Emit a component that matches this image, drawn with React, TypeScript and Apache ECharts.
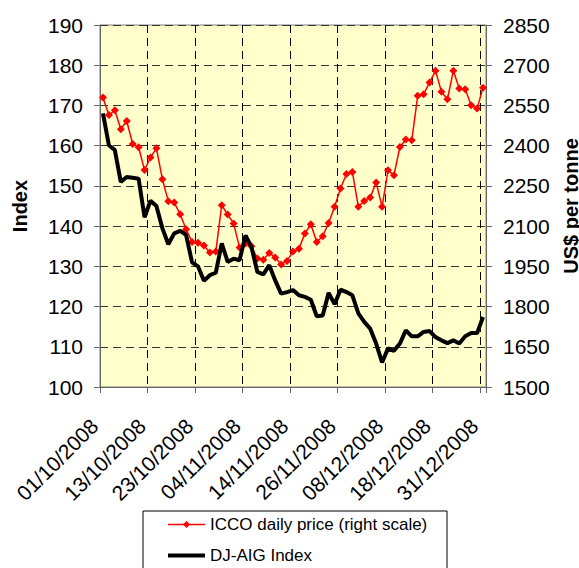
import React, { useEffect, useRef } from "react";
import * as echarts from "echarts";

const dates = [
  "01/10/2008", "02/10/2008", "03/10/2008", "06/10/2008", "07/10/2008", "08/10/2008", "09/10/2008", "10/10/2008",
  "13/10/2008", "14/10/2008", "15/10/2008", "16/10/2008", "17/10/2008", "20/10/2008", "21/10/2008", "22/10/2008",
  "23/10/2008", "24/10/2008", "27/10/2008", "28/10/2008", "29/10/2008", "30/10/2008", "31/10/2008", "03/11/2008",
  "04/11/2008", "05/11/2008", "06/11/2008", "07/11/2008", "10/11/2008", "11/11/2008", "12/11/2008", "13/11/2008",
  "14/11/2008", "17/11/2008", "18/11/2008", "19/11/2008", "20/11/2008", "21/11/2008", "24/11/2008", "25/11/2008",
  "26/11/2008", "27/11/2008", "28/11/2008", "01/12/2008", "02/12/2008", "03/12/2008", "04/12/2008", "05/12/2008",
  "08/12/2008", "09/12/2008", "10/12/2008", "11/12/2008", "12/12/2008", "15/12/2008", "16/12/2008", "17/12/2008",
  "18/12/2008", "19/12/2008", "22/12/2008", "23/12/2008", "24/12/2008", "26/12/2008", "29/12/2008", "30/12/2008",
  "31/12/2008",
];

// ICCO daily price, US$ per tonne (right scale)
const iccoPrice = [
  2580, 2514, 2532, 2461, 2492, 2406, 2394, 2309, 2356, 2390, 2275, 2193, 2188, 2144, 2088, 2041,
  2038, 2028, 2002, 2005, 2178, 2143, 2110, 2020, 2035, 2025, 1979, 1975, 2000, 1983, 1957, 1970,
  2005, 2016, 2072, 2107, 2041, 2062, 2112, 2172, 2240, 2294, 2302, 2172, 2194, 2207, 2263, 2172,
  2308, 2290, 2395, 2423, 2420, 2586, 2592, 2636, 2679, 2601, 2573, 2679, 2613, 2610, 2551, 2539,
  2616,
];

// DJ-AIG Index (left scale)
const djAigIndex = [
  168.0, 160.1, 158.9, 151.0, 152.2, 152.0, 151.8, 142.2, 146.3, 145.0, 139.5, 135.5, 138.2, 138.8, 137.8, 131.0,
  130.0, 126.4, 127.8, 128.4, 135.7, 131.1, 131.9, 131.5, 137.7, 134.8, 128.6, 128.0, 130.3, 126.5, 123.2, 123.6,
  124.1, 122.8, 122.4, 121.7, 117.6, 117.8, 123.4, 120.6, 124.2, 123.6, 122.8, 118.3, 116.2, 114.5, 110.8, 106.1,
  109.6, 109.0, 110.8, 114.1, 112.6, 112.6, 113.7, 113.9, 112.4, 111.6, 110.9, 111.6, 110.8, 112.6, 113.4, 113.4,
  117.4,
];

const leftAxisRange = [100, 190];
const leftAxisStep = 10;
const rightAxisRange = [1500, 2850];
const rightAxisStep = 150;

const seriesNames = ["ICCO daily price (right scale)", "DJ-AIG Index"];
const axisTitles = ["Index", "US$ per tonne"];

const FONT = "'Liberation Sans', Arial, Helvetica, sans-serif";

export default function App() {
  const ref = useRef<HTMLDivElement>(null);

  useEffect(() => {
    if (!ref.current) return;
    const chart = echarts.init(ref.current, undefined, { renderer: "svg" });
    const axisLabelStyle = { fontSize: 21, fontFamily: FONT, color: "#000" };
    const titleStyle = { fontSize: 20, fontWeight: "bold", fontFamily: FONT, color: "#000" };
    chart.setOption({
      animation: false,
      backgroundColor: "#ffffff",
      grid: {
        left: 100,
        right: 93,
        top: 25,
        bottom: 181,
        show: true,
        backgroundColor: "#FFFFCC",
        borderColor: "#808080",
        borderWidth: 1,
        containLabel: false,
        outerBoundsMode: "none",
      },
      xAxis: {
        type: "category",
        data: dates,
        boundaryGap: true,
        axisLine: { show: true, lineStyle: { color: "#666", width: 1 } },
        axisTick: { show: true, interval: 7, length: 6, lineStyle: { color: "#666" } },
        axisLabel: {
          interval: 7,
          rotate: 45,
          margin: 27,
          formatter: (v: string) => "{d|" + v + "}",
          rich: { d: { ...axisLabelStyle, padding: [0, 12, 0, 0] } },
        },
        splitLine: { show: true, interval: 7, lineStyle: { color: "#000", type: [8, 5], width: 1 } },
      },
      yAxis: [
        {
          type: "value",
          position: "left",
          min: leftAxisRange[0],
          max: leftAxisRange[1],
          interval: leftAxisStep,
          name: axisTitles[0],
          nameLocation: "middle",
          nameRotate: 90,
          nameGap: 70,
          nameTextStyle: titleStyle,
          axisLine: { show: true, lineStyle: { color: "#666", width: 1 } },
          axisTick: { show: true, length: 6, lineStyle: { color: "#666" } },
          axisLabel: { ...axisLabelStyle, margin: 17, formatter: (v: number) => String(v) },
          splitLine: { show: true, lineStyle: { color: "#333", type: [8, 5], width: 1 } },
        },
        {
          type: "value",
          position: "right",
          min: rightAxisRange[0],
          max: rightAxisRange[1],
          interval: rightAxisStep,
          name: axisTitles[1],
          nameLocation: "middle",
          nameRotate: 90,
          nameGap: 64,
          nameTextStyle: titleStyle,
          axisLine: { show: true, lineStyle: { color: "#666", width: 1 } },
          axisTick: { show: true, length: 6, lineStyle: { color: "#666" } },
          axisLabel: { ...axisLabelStyle, margin: 17, formatter: (v: number) => String(v) },
          splitLine: { show: false },
        },
      ],
      legend: {
        orient: "vertical",
        left: 166,
        top: 516,
        padding: 0,
        itemWidth: 37,
        itemHeight: 9,
        itemGap: 14,
        textStyle: { fontSize: 17, fontFamily: FONT, color: "#000" },
        data: [
          { name: seriesNames[0], lineStyle: { color: "#FF0000", width: 1.5 } },
          { name: seriesNames[1], itemStyle: { opacity: 0 }, lineStyle: { color: "#000000", width: 4 } },
        ],
      },
      graphic: [
        {
          type: "rect",
          shape: { x: 143, y: 511, width: 304, height: 80 },
          style: { fill: "none", stroke: "#000", lineWidth: 1 },
          silent: true,
        },
      ],
      series: [
        {
          name: seriesNames[0],
          type: "line",
          yAxisIndex: 1,
          data: iccoPrice,
          symbol: "diamond",
          symbolSize: 8,
          showSymbol: true,
          showAllSymbol: true,
          lineStyle: { color: "#FF0000", width: 1.5 },
          itemStyle: { color: "#FF0000" },
          z: 2,
        },
        {
          name: seriesNames[1],
          type: "line",
          yAxisIndex: 0,
          data: djAigIndex,
          symbol: "none",
          lineStyle: { color: "#000000", width: 4 },
          itemStyle: { color: "#000000" },
          z: 3,
        },
      ],
    });
    return () => chart.dispose();
  }, []);

  return (
    <div
      ref={ref}
      style={{ position: "fixed", left: 0, top: 0, width: 579, height: 568, background: "#fff" }}
    />
  );
}
